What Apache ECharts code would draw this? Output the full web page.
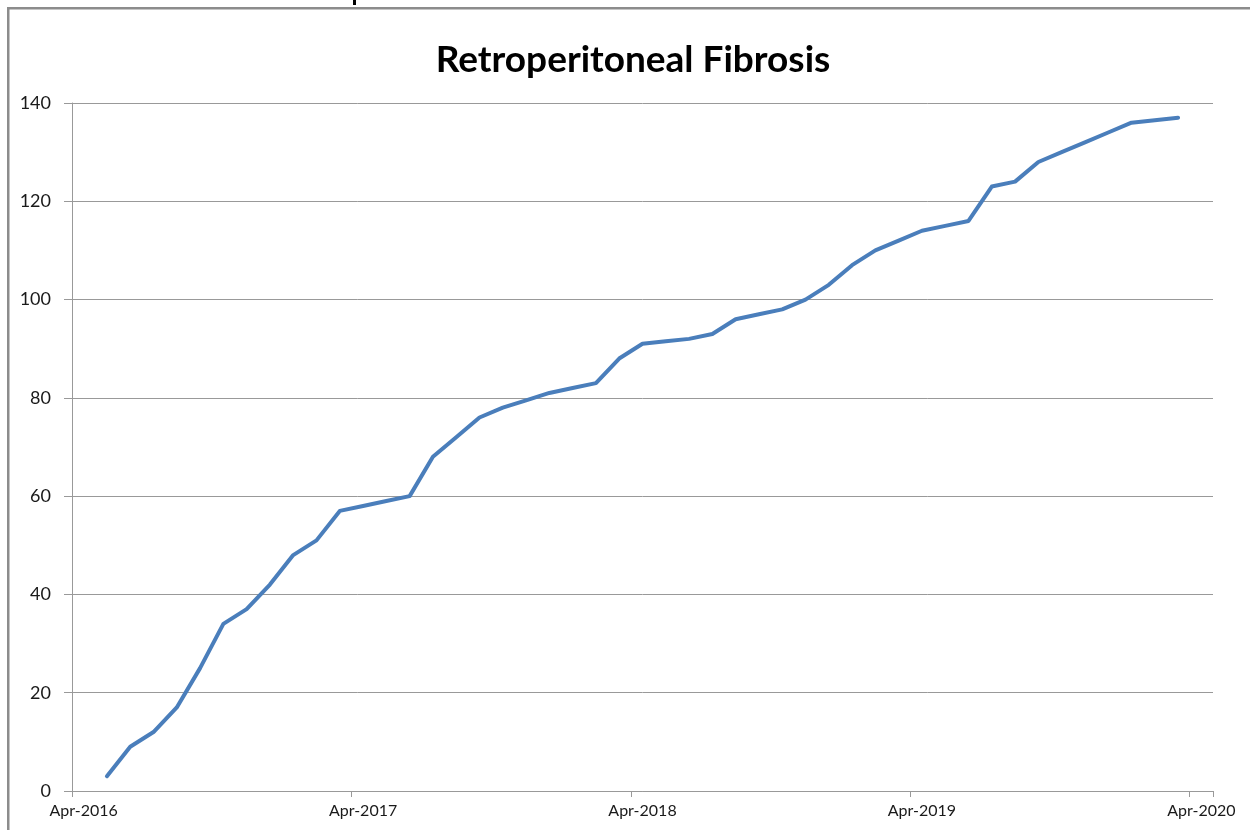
<!DOCTYPE html>
<html>
<head>
<meta charset="utf-8">
<style>
  html, body { margin: 0; padding: 0; background: #ffffff; }
  #chart { width: 1250px; height: 830px; }
</style>
<script src="https://cdn.jsdelivr.net/npm/echarts@6/dist/echarts.min.js"></script>
</head>
<body>
<div id="chart"></div>
<script>
const titleText = 'Retroperitoneal Fibrosis';

const months = [
  'Apr-2016','May-2016','Jun-2016','Jul-2016','Aug-2016','Sep-2016','Oct-2016','Nov-2016','Dec-2016','Jan-2017','Feb-2017','Mar-2017',
  'Apr-2017','May-2017','Jun-2017','Jul-2017','Aug-2017','Sep-2017','Oct-2017','Nov-2017','Dec-2017','Jan-2018','Feb-2018','Mar-2018',
  'Apr-2018','May-2018','Jun-2018','Jul-2018','Aug-2018','Sep-2018','Oct-2018','Nov-2018','Dec-2018','Jan-2019','Feb-2019','Mar-2019',
  'Apr-2019','May-2019','Jun-2019','Jul-2019','Aug-2019','Sep-2019','Oct-2019','Nov-2019','Dec-2019','Jan-2020','Feb-2020','Mar-2020',
  'Apr-2020'
];

const cumulative = [
  null, 3, 9, 12, 17, 25, 34, 37, 42, 48, 51, 57,
  58, 59, 60, 68, 72, 76, 78, 79.5, 81, 82, 83, 88,
  91, 91.5, 92, 93, 96, 97, 98, 100, 103, 107, 110, 112,
  114, 115, 116, 123, 124, 128, 130, 132, 134, 136, 136.5, 137,
  null
];

const yTicks = { min: 0, max: 140, interval: 20 };

const chart = echarts.init(document.getElementById('chart'), null, { renderer: 'canvas' });

const labelFont = 'Lato, "Open Sans", "Liberation Sans", sans-serif';

chart.setOption({
  animation: false,
  backgroundColor: '#ffffff',
  title: {
    text: titleText,
    left: 628,
    textAlign: 'center',
    top: 37,
    textStyle: {
      fontFamily: labelFont,
      fontWeight: 'bold',
      fontSize: 37,
      color: '#000000'
    }
  },
  grid: {
    left: 72,
    right: 37,
    top: 103,
    bottom: 39,
    containLabel: false
  },
  xAxis: {
    type: 'category',
    data: months,
    boundaryGap: true,
    axisLine: { show: true, lineStyle: { color: '#999999', width: 1 } },
    axisTick: {
      show: true,
      interval: 11,
      length: 6,
      alignWithLabel: false,
      lineStyle: { color: '#999999', width: 1 }
    },
    axisLabel: {
      interval: 11,
      margin: 12,
      fontFamily: labelFont,
      fontSize: 16,
      color: '#1a1a1a'
    },
    splitLine: { show: false }
  },
  yAxis: {
    type: 'value',
    min: yTicks.min,
    max: yTicks.max,
    interval: yTicks.interval,
    axisLine: { show: true, lineStyle: { color: '#999999', width: 1 } },
    axisTick: { show: true, length: 8, lineStyle: { color: '#999999', width: 1 } },
    axisLabel: {
      margin: 21,
      fontFamily: labelFont,
      fontSize: 18,
      color: '#1a1a1a'
    },
    splitLine: { show: true, lineStyle: { color: '#999999', width: 1 } }
  },
  series: [{
    type: 'line',
    data: cumulative,
    showSymbol: false,
    symbol: 'none',
    connectNulls: false,
    lineStyle: { color: '#4a7ebb', width: 4, join: 'round', cap: 'round' },
    itemStyle: { color: '#4a7ebb' }
  }],
  graphic: [
    { type: 'rect', shape: { x: 7, y: 7, width: 1243, height: 2.5 }, style: { fill: '#8c8c8c' }, silent: true },
    { type: 'rect', shape: { x: 7, y: 7, width: 2.5, height: 823 }, style: { fill: '#8c8c8c' }, silent: true },
    { type: 'rect', shape: { x: 353, y: 0, width: 3, height: 5 }, style: { fill: '#000000' }, silent: true }
  ]
});
</script>
</body>
</html>
